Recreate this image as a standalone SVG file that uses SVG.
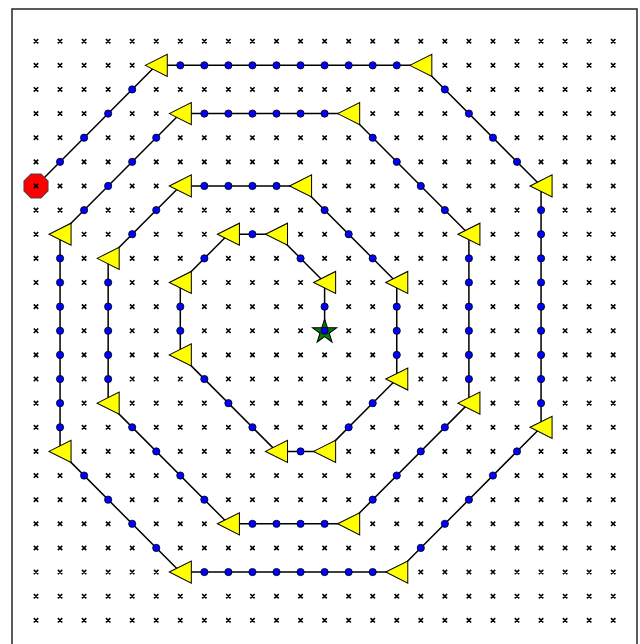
<svg xmlns="http://www.w3.org/2000/svg" xmlns:xlink="http://www.w3.org/1999/xlink" width="640" height="644" viewBox="0 0 640 644">
<style>
.frame{fill:#fff;stroke:#333;stroke-width:1.6}
.conn{fill:none;stroke:#000;stroke-width:1.5;stroke-linejoin:round}
.grid{fill:none;stroke:#000;stroke-width:1.6}
.dot{fill:#0000ff;stroke:#000;stroke-width:0.8}
.tri{fill:#ffff00;stroke:#000;stroke-width:1}
.oct{fill:#ff0000;stroke:#444;stroke-width:1}
.star{fill:#008000;stroke:#000;stroke-width:1}
</style>
<defs>
<circle id="dot" class="dot" r="3.6"/>
<polygon id="tri" class="tri" points="-11,0 11,-11 11,11"/>
<path id="row" d="M-2.2-2.2l4.4 4.4m0-4.4l-4.4 4.4M21.8-2.2l4.4 4.4m0-4.4l-4.4 4.4M45.8-2.2l4.4 4.4m0-4.4l-4.4 4.4M69.8-2.2l4.4 4.4m0-4.4l-4.4 4.4M93.8-2.2l4.4 4.4m0-4.4l-4.4 4.4M117.8-2.2l4.4 4.4m0-4.4l-4.4 4.4M141.8-2.2l4.4 4.4m0-4.4l-4.4 4.4M165.8-2.2l4.4 4.4m0-4.4l-4.4 4.4M189.8-2.2l4.4 4.4m0-4.4l-4.4 4.4M213.8-2.2l4.4 4.4m0-4.4l-4.4 4.4M237.8-2.2l4.4 4.4m0-4.4l-4.4 4.4M261.8-2.2l4.4 4.4m0-4.4l-4.4 4.4M285.8-2.2l4.4 4.4m0-4.4l-4.4 4.4M309.8-2.2l4.4 4.4m0-4.4l-4.4 4.4M333.8-2.2l4.4 4.4m0-4.4l-4.4 4.4M357.8-2.2l4.4 4.4m0-4.4l-4.4 4.4M381.8-2.2l4.4 4.4m0-4.4l-4.4 4.4M405.8-2.2l4.4 4.4m0-4.4l-4.4 4.4M429.8-2.2l4.4 4.4m0-4.4l-4.4 4.4M453.8-2.2l4.4 4.4m0-4.4l-4.4 4.4M477.8-2.2l4.4 4.4m0-4.4l-4.4 4.4M501.8-2.2l4.4 4.4m0-4.4l-4.4 4.4M525.8-2.2l4.4 4.4m0-4.4l-4.4 4.4M549.8-2.2l4.4 4.4m0-4.4l-4.4 4.4M573.8-2.2l4.4 4.4m0-4.4l-4.4 4.4"/>
</defs>
<rect class="frame" x="12" y="9" width="625" height="645"/>
<g transform="translate(36,41.2) scale(1.0021,1.0054)">
<g id="connectors">
<polyline class="conn" points="0,144 120,24 384,24 504,144 504,384 360,528 144,528 24,408 24,192 144,72 312,72 432,192 432,360 312,480 192,480 72,360 72,216 144,144 264,144 360,240 360,336 288,408 240,408 144,312 144,240 192,192 240,192 288,240 288,288"/>
</g>
<g id="start"><polygon class="oct" points="12,149 5,156 -5,156 -12,149 -12,139 -5,132 5,132 12,139"/></g>
<g id="grid" class="grid">
<use href="#row" y="0"/><use href="#row" y="24"/><use href="#row" y="48"/><use href="#row" y="72"/><use href="#row" y="96"/><use href="#row" y="120"/><use href="#row" y="144"/><use href="#row" y="168"/><use href="#row" y="192"/><use href="#row" y="216"/><use href="#row" y="240"/><use href="#row" y="264"/><use href="#row" y="288"/><use href="#row" y="312"/><use href="#row" y="336"/><use href="#row" y="360"/><use href="#row" y="384"/><use href="#row" y="408"/><use href="#row" y="432"/><use href="#row" y="456"/><use href="#row" y="480"/><use href="#row" y="504"/><use href="#row" y="528"/><use href="#row" y="552"/><use href="#row" y="576"/>
</g>
<g id="end"><polygon class="star" transform="translate(288,289) scale(1.05)" points="0,-12 2.7,-3.72 11.41,-3.71 4.37,1.42 7.05,9.71 0,4.6 -7.05,9.71 -4.37,1.42 -11.41,-3.71 -2.7,-3.72"/></g>
<g id="dots">
<g id="d1"><use href="#dot" x="24" y="120"/></g>
<g id="d2"><use href="#dot" x="48" y="96"/></g>
<g id="d3"><use href="#dot" x="72" y="72"/></g>
<g id="d4"><use href="#dot" x="96" y="48"/></g>
<g id="d5"><use href="#dot" x="144" y="24"/></g>
<g id="d6"><use href="#dot" x="168" y="24"/></g>
<g id="d7"><use href="#dot" x="192" y="24"/></g>
<g id="d8"><use href="#dot" x="216" y="24"/></g>
<g id="d9"><use href="#dot" x="240" y="24"/></g>
<g id="d10"><use href="#dot" x="264" y="24"/></g>
<g id="d11"><use href="#dot" x="288" y="24"/></g>
<g id="d12"><use href="#dot" x="312" y="24"/></g>
<g id="d13"><use href="#dot" x="336" y="24"/></g>
<g id="d14"><use href="#dot" x="360" y="24"/></g>
<g id="d15"><use href="#dot" x="408" y="48"/></g>
<g id="d16"><use href="#dot" x="432" y="72"/></g>
<g id="d17"><use href="#dot" x="456" y="96"/></g>
<g id="d18"><use href="#dot" x="480" y="120"/></g>
<g id="d19"><use href="#dot" x="504" y="168"/></g>
<g id="d20"><use href="#dot" x="504" y="192"/></g>
<g id="d21"><use href="#dot" x="504" y="216"/></g>
<g id="d22"><use href="#dot" x="504" y="240"/></g>
<g id="d23"><use href="#dot" x="504" y="264"/></g>
<g id="d24"><use href="#dot" x="504" y="288"/></g>
<g id="d25"><use href="#dot" x="504" y="312"/></g>
<g id="d26"><use href="#dot" x="504" y="336"/></g>
<g id="d27"><use href="#dot" x="504" y="360"/></g>
<g id="d28"><use href="#dot" x="480" y="408"/></g>
<g id="d29"><use href="#dot" x="456" y="432"/></g>
<g id="d30"><use href="#dot" x="432" y="456"/></g>
<g id="d31"><use href="#dot" x="408" y="480"/></g>
<g id="d32"><use href="#dot" x="384" y="504"/></g>
<g id="d33"><use href="#dot" x="336" y="528"/></g>
<g id="d34"><use href="#dot" x="312" y="528"/></g>
<g id="d35"><use href="#dot" x="288" y="528"/></g>
<g id="d36"><use href="#dot" x="264" y="528"/></g>
<g id="d37"><use href="#dot" x="240" y="528"/></g>
<g id="d38"><use href="#dot" x="216" y="528"/></g>
<g id="d39"><use href="#dot" x="192" y="528"/></g>
<g id="d40"><use href="#dot" x="168" y="528"/></g>
<g id="d41"><use href="#dot" x="120" y="504"/></g>
<g id="d42"><use href="#dot" x="96" y="480"/></g>
<g id="d43"><use href="#dot" x="72" y="456"/></g>
<g id="d44"><use href="#dot" x="48" y="432"/></g>
<g id="d45"><use href="#dot" x="24" y="384"/></g>
<g id="d46"><use href="#dot" x="24" y="360"/></g>
<g id="d47"><use href="#dot" x="24" y="336"/></g>
<g id="d48"><use href="#dot" x="24" y="312"/></g>
<g id="d49"><use href="#dot" x="24" y="288"/></g>
<g id="d50"><use href="#dot" x="24" y="264"/></g>
<g id="d51"><use href="#dot" x="24" y="240"/></g>
<g id="d52"><use href="#dot" x="24" y="216"/></g>
<g id="d53"><use href="#dot" x="48" y="168"/></g>
<g id="d54"><use href="#dot" x="72" y="144"/></g>
<g id="d55"><use href="#dot" x="96" y="120"/></g>
<g id="d56"><use href="#dot" x="120" y="96"/></g>
<g id="d57"><use href="#dot" x="168" y="72"/></g>
<g id="d58"><use href="#dot" x="192" y="72"/></g>
<g id="d59"><use href="#dot" x="216" y="72"/></g>
<g id="d60"><use href="#dot" x="240" y="72"/></g>
<g id="d61"><use href="#dot" x="264" y="72"/></g>
<g id="d62"><use href="#dot" x="288" y="72"/></g>
<g id="d63"><use href="#dot" x="336" y="96"/></g>
<g id="d64"><use href="#dot" x="360" y="120"/></g>
<g id="d65"><use href="#dot" x="384" y="144"/></g>
<g id="d66"><use href="#dot" x="408" y="168"/></g>
<g id="d67"><use href="#dot" x="432" y="216"/></g>
<g id="d68"><use href="#dot" x="432" y="240"/></g>
<g id="d69"><use href="#dot" x="432" y="264"/></g>
<g id="d70"><use href="#dot" x="432" y="288"/></g>
<g id="d71"><use href="#dot" x="432" y="312"/></g>
<g id="d72"><use href="#dot" x="432" y="336"/></g>
<g id="d73"><use href="#dot" x="408" y="384"/></g>
<g id="d74"><use href="#dot" x="384" y="408"/></g>
<g id="d75"><use href="#dot" x="360" y="432"/></g>
<g id="d76"><use href="#dot" x="336" y="456"/></g>
<g id="d77"><use href="#dot" x="288" y="480"/></g>
<g id="d78"><use href="#dot" x="264" y="480"/></g>
<g id="d79"><use href="#dot" x="240" y="480"/></g>
<g id="d80"><use href="#dot" x="216" y="480"/></g>
<g id="d81"><use href="#dot" x="168" y="456"/></g>
<g id="d82"><use href="#dot" x="144" y="432"/></g>
<g id="d83"><use href="#dot" x="120" y="408"/></g>
<g id="d84"><use href="#dot" x="96" y="384"/></g>
<g id="d85"><use href="#dot" x="72" y="336"/></g>
<g id="d86"><use href="#dot" x="72" y="312"/></g>
<g id="d87"><use href="#dot" x="72" y="288"/></g>
<g id="d88"><use href="#dot" x="72" y="264"/></g>
<g id="d89"><use href="#dot" x="72" y="240"/></g>
<g id="d90"><use href="#dot" x="96" y="192"/></g>
<g id="d91"><use href="#dot" x="120" y="168"/></g>
<g id="d92"><use href="#dot" x="168" y="144"/></g>
<g id="d93"><use href="#dot" x="192" y="144"/></g>
<g id="d94"><use href="#dot" x="216" y="144"/></g>
<g id="d95"><use href="#dot" x="240" y="144"/></g>
<g id="d96"><use href="#dot" x="288" y="168"/></g>
<g id="d97"><use href="#dot" x="312" y="192"/></g>
<g id="d98"><use href="#dot" x="336" y="216"/></g>
<g id="d99"><use href="#dot" x="360" y="264"/></g>
<g id="d100"><use href="#dot" x="360" y="288"/></g>
<g id="d101"><use href="#dot" x="360" y="312"/></g>
<g id="d102"><use href="#dot" x="336" y="360"/></g>
<g id="d103"><use href="#dot" x="312" y="384"/></g>
<g id="d104"><use href="#dot" x="264" y="408"/></g>
<g id="d105"><use href="#dot" x="216" y="384"/></g>
<g id="d106"><use href="#dot" x="192" y="360"/></g>
<g id="d107"><use href="#dot" x="168" y="336"/></g>
<g id="d108"><use href="#dot" x="144" y="288"/></g>
<g id="d109"><use href="#dot" x="144" y="264"/></g>
<g id="d110"><use href="#dot" x="168" y="216"/></g>
<g id="d111"><use href="#dot" x="216" y="192"/></g>
<g id="d112"><use href="#dot" x="264" y="216"/></g>
<g id="d113"><use href="#dot" x="288" y="264"/></g>
<g id="d114"><use href="#dot" x="288" y="288"/></g>
</g>
<g id="turns">
<g id="t1"><use href="#tri" x="120" y="24"/></g>
<g id="t2"><use href="#tri" x="384" y="24"/></g>
<g id="t3"><use href="#tri" x="504" y="144"/></g>
<g id="t4"><use href="#tri" x="504" y="384"/></g>
<g id="t5"><use href="#tri" x="360" y="528"/></g>
<g id="t6"><use href="#tri" x="144" y="528"/></g>
<g id="t7"><use href="#tri" x="24" y="408"/></g>
<g id="t8"><use href="#tri" x="24" y="192"/></g>
<g id="t9"><use href="#tri" x="144" y="72"/></g>
<g id="t10"><use href="#tri" x="312" y="72"/></g>
<g id="t11"><use href="#tri" x="432" y="192"/></g>
<g id="t12"><use href="#tri" x="432" y="360"/></g>
<g id="t13"><use href="#tri" x="312" y="480"/></g>
<g id="t14"><use href="#tri" x="192" y="480"/></g>
<g id="t15"><use href="#tri" x="72" y="360"/></g>
<g id="t16"><use href="#tri" x="72" y="216"/></g>
<g id="t17"><use href="#tri" x="144" y="144"/></g>
<g id="t18"><use href="#tri" x="264" y="144"/></g>
<g id="t19"><use href="#tri" x="360" y="240"/></g>
<g id="t20"><use href="#tri" x="360" y="336"/></g>
<g id="t21"><use href="#tri" x="288" y="408"/></g>
<g id="t22"><use href="#tri" x="240" y="408"/></g>
<g id="t23"><use href="#tri" x="144" y="312"/></g>
<g id="t24"><use href="#tri" x="144" y="240"/></g>
<g id="t25"><use href="#tri" x="192" y="192"/></g>
<g id="t26"><use href="#tri" x="240" y="192"/></g>
<g id="t27"><use href="#tri" x="288" y="240"/></g>
</g>
</g>
</svg>
